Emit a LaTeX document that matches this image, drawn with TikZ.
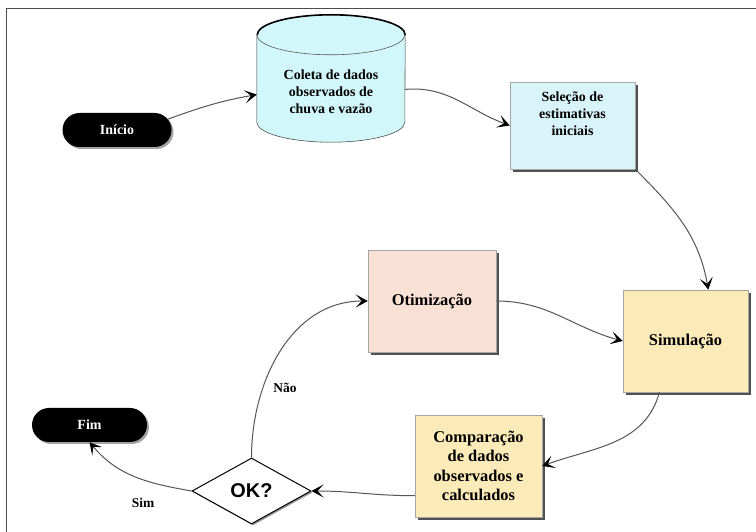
\documentclass[tikz,border=0pt]{standalone}
\usepackage{fontspec}
\setmainfont{Liberation Serif}
\setsansfont{Liberation Sans}
\usepackage{tikz}
\usetikzlibrary{arrows.meta,shapes.geometric,shapes.misc,shadows,backgrounds,calc}

\definecolor{dataCyan}{RGB}{210,247,250}
\definecolor{stepCyan}{RGB}{217,244,248}
\definecolor{optPink}{RGB}{249,225,214}
\definecolor{simYellow}{RGB}{252,235,184}
\definecolor{lineGray}{RGB}{85,85,85}

\begin{document}
\begin{tikzpicture}[
    x=1bp, y=1bp,
    % Node styles
    terminal/.style={rounded rectangle, fill=black, text=white, inner sep=0pt,
        minimum height=34bp, font=\bfseries\fontsize{14}{16}\selectfont,
        drop shadow={shadow xshift=2bp, shadow yshift=-2bp, fill=black!60, opacity=0.6}},
    procBox/.style={rectangle, draw=gray!70, line width=0.5pt, align=center, inner sep=0pt,
        font=\bfseries\fontsize{14}{17}\selectfont,
        drop shadow={shadow xshift=3bp, shadow yshift=-3bp, fill=black!80, opacity=0.85}},
    decision/.style={diamond, draw=black, line width=1pt, fill=white, inner sep=0pt,
        minimum width=119bp, minimum height=66bp, font=\sffamily\bfseries\fontsize{20}{22}\selectfont,
        drop shadow={shadow xshift=1.5bp, shadow yshift=-1.5bp, fill=black!70, opacity=0.6}},
    edgeLabel/.style={font=\bfseries\fontsize{13.5}{15}\selectfont},
    % Connectors
    flow/.style={draw=lineGray, line width=1pt,
        -{Stealth[length=12bp, width=13bp, inset=6bp, color=black]}}
]
    \useasboundingbox (0,0) rectangle (756,532);

    % =========================================================================
    % 1. FRAME
    % =========================================================================
    \draw[line width=0.8pt, gray!60!black] (6,0) -- (6,524) -- (756,524);

    % =========================================================================
    % 2. NODES
    % =========================================================================
    \node[terminal, minimum width=109bp] (inicio) at (117,402) {Início};

    % --- data cylinder (text node, shape drawn behind it) ---
    \node[align=center, inner sep=0pt, minimum width=148bp, minimum height=100bp,
          font=\bfseries\fontsize{14}{17}\selectfont] (coleta) at (331,440)
          {Coleta de dados\\observados de\\chuva e vazão};

    \node[procBox, fill=stepCyan, minimum width=125bp, minimum height=87bp] (selecao) at (572.5,406.5)
          {Seleção de\\estimativas\\iniciais\\[6bp]};
    \node[procBox, fill=optPink, minimum width=128bp, minimum height=102bp,
          font=\bfseries\fontsize{16.5}{19}\selectfont] (otim) at (432,231) {Otimização};
    \node[procBox, fill=simYellow, minimum width=125bp, minimum height=102bp,
          font=\bfseries\fontsize{16.5}{19}\selectfont] (simul) at (685.5,191) {Simulação};
    \node[procBox, fill=simYellow, minimum width=127bp, minimum height=102bp,
          font=\bfseries\fontsize{16.5}{19.5}\selectfont] (compar) at (478.5,66)
          {Comparação\\de dados\\observados e\\calculados};
    \node[decision] (ok) at (251.5,41) {OK?};
    \node[terminal, minimum width=115bp] (fim) at (89.5,107) {Fim};

    \begin{scope}[on background layer]
        \coordinate (cTL) at ($(coleta.north west)+(0,7)$);
        \coordinate (cTR) at ($(coleta.north east)+(0,7)$);
        \coordinate (cBL) at ($(coleta.south west)+(0,20)$);
        % shadow
        \fill[black!80, opacity=0.85, shift={(3,-3)}] (cTL) -- (cBL)
            arc[start angle=180, end angle=360, x radius=74, y radius=20]
            -- (cTR) arc[start angle=0, end angle=180, x radius=74, y radius=20] -- cycle;
        % body
        \filldraw[fill=dataCyan, draw=gray!70!black, line width=0.6pt] (cTL) -- (cBL)
            arc[start angle=180, end angle=360, x radius=74, y radius=20]
            -- (cTR) arc[start angle=0, end angle=180, x radius=74, y radius=20] -- cycle;
        \draw[black, line width=1.6pt] (cTR) arc[start angle=0, end angle=180, x radius=74, y radius=20];
        \draw[gray!70!black, line width=0.6pt] (cTL) arc[start angle=180, end angle=360, x radius=74, y radius=20];
    \end{scope}

    % =========================================================================
    % 3. CONNECTORS
    % =========================================================================
    \draw[flow] (inicio.12) to[out=20, in=190] (coleta.182);
    \draw[flow] (coleta.2) to[out=5, in=160] (selecao.west);
    \draw[flow] (selecao.south east) to[out=-45, in=100] (simul.66);
    \draw[flow] (simul.243) to[out=-105, in=20] (compar.east);
    \draw[flow] (compar.205) to[out=180, in=0] (ok.east);
    \draw[flow] (ok.west) to[out=170, in=-50] (fim.south);
    \draw[flow] (ok.north) to[out=90, in=180] (otim.west);
    \draw[flow] (otim.east) to[out=0, in=165] (simul.west);

    % --- branch labels ---
    \node[edgeLabel] (lblNao) at (285,144) {Não};
    \node[edgeLabel] (lblSim) at (143,29) {Sim};

\end{tikzpicture}
\end{document}
